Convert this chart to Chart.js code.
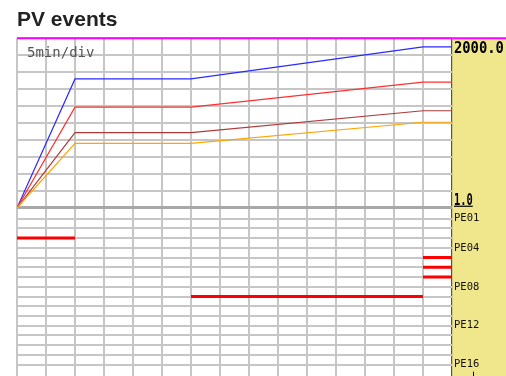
<!DOCTYPE html>
<html>
<head>
<meta charset="utf-8">
<title>PV events</title>
<script src="https://cdn.jsdelivr.net/npm/chart.js@4.4.0/dist/chart.umd.min.js"></script>
<style>
  html, body { margin: 0; padding: 0; background: #fff; }
  #chart-wrap { width: 506px; height: 376px; overflow: hidden; }
</style>
</head>
<body>
<div id="chart-wrap"><canvas id="pv-chart" width="506" height="386"></canvas></div>
<script>
"use strict";

// Trend data (minutes, 5 min per division)
const timeMin = [0, 10, 30, 70, 75];
const pvBlue = [1, 440, 440, 2000, 2000];
const pvRed = [1, 116, 116, 378, 378];
const pvBrown = [1, 35, 35, 98, 98];
const pvOrange = [1, 21, 21, 57, 57];

// PV events: channel, start (min), end (min)
const eventChannel = [3, 9, 5, 6, 7];
const eventStart = [0, 30, 70, 70, 70];
const eventEnd = [10, 70, 75, 75, 75];

// Scale labels
const peChannels = [1, 2, 3, 4, 5, 6, 7, 8, 9, 10, 11, 12, 13, 14, 15, 16];
const peLabelled = [1, 4, 8, 12, 16];
const pvMin = 1, pvMax = 3000;
const pvTopLabel = 2000, pvBottomLabel = 1;
const divisionLabel = '5min/div';

const gridColor = '#c6c6c6';

function toPoints(xs, ys) {
    return xs.map((x, i) => ({ x: x, y: ys[i] }));
}

function trendDataset(values, color) {
    return {
        data: toPoints(timeMin, values),
        yAxisID: 'pv',
        borderColor: color,
        borderWidth: 1.2,
        pointRadius: 0,
        tension: 0
    };
}

// Event bars
const eventDatasets = eventChannel.map((ch, i) => ({
    data: [{ x: eventStart[i], y: ch }, { x: eventEnd[i], y: ch }],
    yAxisID: 'pe',
    borderColor: '#ff0000',
    borderWidth: 3,
    pointRadius: 0,
    borderCapStyle: 'butt'
}));

// Yellow scale panel, top marker line and panel texts
const panelPlugin = {
    id: 'panel',
    beforeDraw(chart) {
        const { ctx, chartArea } = chart;
        ctx.save();
        ctx.fillStyle = '#f0e68c';
        ctx.fillRect(chartArea.right, chartArea.top, chart.width - chartArea.right, chart.height - chartArea.top);
        ctx.restore();
    },
    afterDraw(chart) {
        const { ctx, chartArea } = chart;
        const pv = chart.scales.pv;
        const x0 = chartArea.right + 2;
        ctx.save();

        // magenta top line
        ctx.strokeStyle = '#ff00ff';
        ctx.lineWidth = 2;
        ctx.beginPath();
        ctx.moveTo(chartArea.left, chartArea.top);
        ctx.lineTo(chart.width, chartArea.top);
        ctx.stroke();

        // time division label
        ctx.fillStyle = '#555';
        ctx.font = '14px "DejaVu Sans Mono", monospace';
        ctx.textBaseline = 'alphabetic';
        ctx.fillText(divisionLabel, chartArea.left + 10, chartArea.top + 19);

        // span labels (stretched vertically)
        ctx.fillStyle = '#000';
        const yTop = pv.getPixelForValue(pvTopLabel);
        ctx.save();
        ctx.translate(x0, yTop + 6.5);
        ctx.scale(1, 1.2);
        ctx.font = 'bold 13.8px "DejaVu Sans Mono", monospace';
        ctx.fillText(pvTopLabel.toFixed(1), 0, 0);
        ctx.restore();

        const yBot = pv.getPixelForValue(pvBottomLabel);
        ctx.save();
        ctx.translate(x0, yBot - 3);
        ctx.scale(1, 1.45);
        ctx.font = 'bold 10.4px "DejaVu Sans Mono", monospace';
        const txt = pvBottomLabel.toFixed(1);
        ctx.fillText(txt, 0, 0);
        const w = ctx.measureText(txt).width;
        ctx.restore();
        ctx.fillRect(x0, yBot - 2.3, w, 1.2);

        // small tick at panel bottom
        ctx.fillRect(chartArea.right + 21, chartArea.bottom - 6, 1, 6);
        ctx.restore();
    }
};

const ctx = document.getElementById('pv-chart');
const pvChart = new Chart(ctx, {
    type: 'line',
    data: {
        datasets: [
            trendDataset(pvOrange, '#ffa500'),
            trendDataset(pvBrown, '#b03a3a'),
            trendDataset(pvRed, '#ff3030'),
            trendDataset(pvBlue, '#2a2aff')
        ].concat(eventDatasets)
    },
    options: {
        responsive: false,
        animation: false,
        layout: { autoPadding: false, padding: { left: 17, right: 0, top: 0, bottom: 0 } },
        plugins: {
            legend: { display: false },
            tooltip: { enabled: false },
            title: {
                display: true,
                text: 'PV events',
                align: 'start',
                color: '#222',
                font: { family: '"Liberation Sans", Arial, sans-serif', size: 21, weight: 'bold' },
                padding: { top: 8, bottom: 5 }
            }
        },
        scales: {
            x: {
                type: 'linear',
                min: 0,
                max: 75,
                ticks: { display: false, stepSize: 5 },
                border: { display: false },
                grid: {
                    drawTicks: false,
                    color: (c) => c.tick && c.tick.value === 75 ? '#555' : gridColor,
                    lineWidth: (c) => c.tick && c.tick.value === 75 ? 1.2 : 2
                },
                afterFit(scale) { scale.height = 0; }
            },
            pv: {
                type: 'logarithmic',
                position: 'right',
                stack: 'panel',
                stackWeight: 1,
                min: pvMin,
                max: pvMax,
                afterBuildTicks(scale) {
                    const ticks = [];
                    for (let k = 0; k <= 10; k++) {
                        ticks.push({ value: pvMin * Math.pow(pvMax / pvMin, k / 10) });
                    }
                    scale.ticks = ticks;
                },
                ticks: { display: false },
                border: { display: false },
                grid: {
                    drawTicks: false,
                    color: (c) => c.index === 0 ? '#a8a8a8' : gridColor,
                    lineWidth: (c) => c.index === 0 ? 3 : 2
                },
                afterFit(scale) { scale.width = 54; }
            },
            pe: {
                type: 'linear',
                position: 'right',
                stack: 'panel',
                stackWeight: 1,
                reverse: true,
                min: -0.1,
                max: 17.34,
                afterBuildTicks(scale) {
                    scale.ticks = peChannels.map(v => ({ value: v }));
                },
                ticks: {
                    autoSkip: false,
                    padding: 2,
                    color: '#111',
                    font: { family: '"DejaVu Sans Mono", monospace', size: 10.5 },
                    callback: (v) => peLabelled.includes(v) ? 'PE' + String(v).padStart(2, '0') : ''
                },
                border: { display: false },
                grid: { drawTicks: false, color: gridColor, lineWidth: 2 },
                afterFit(scale) { scale.width = 54; }
            }
        }
    },
    plugins: [panelPlugin]
});
</script>
</body>
</html>
